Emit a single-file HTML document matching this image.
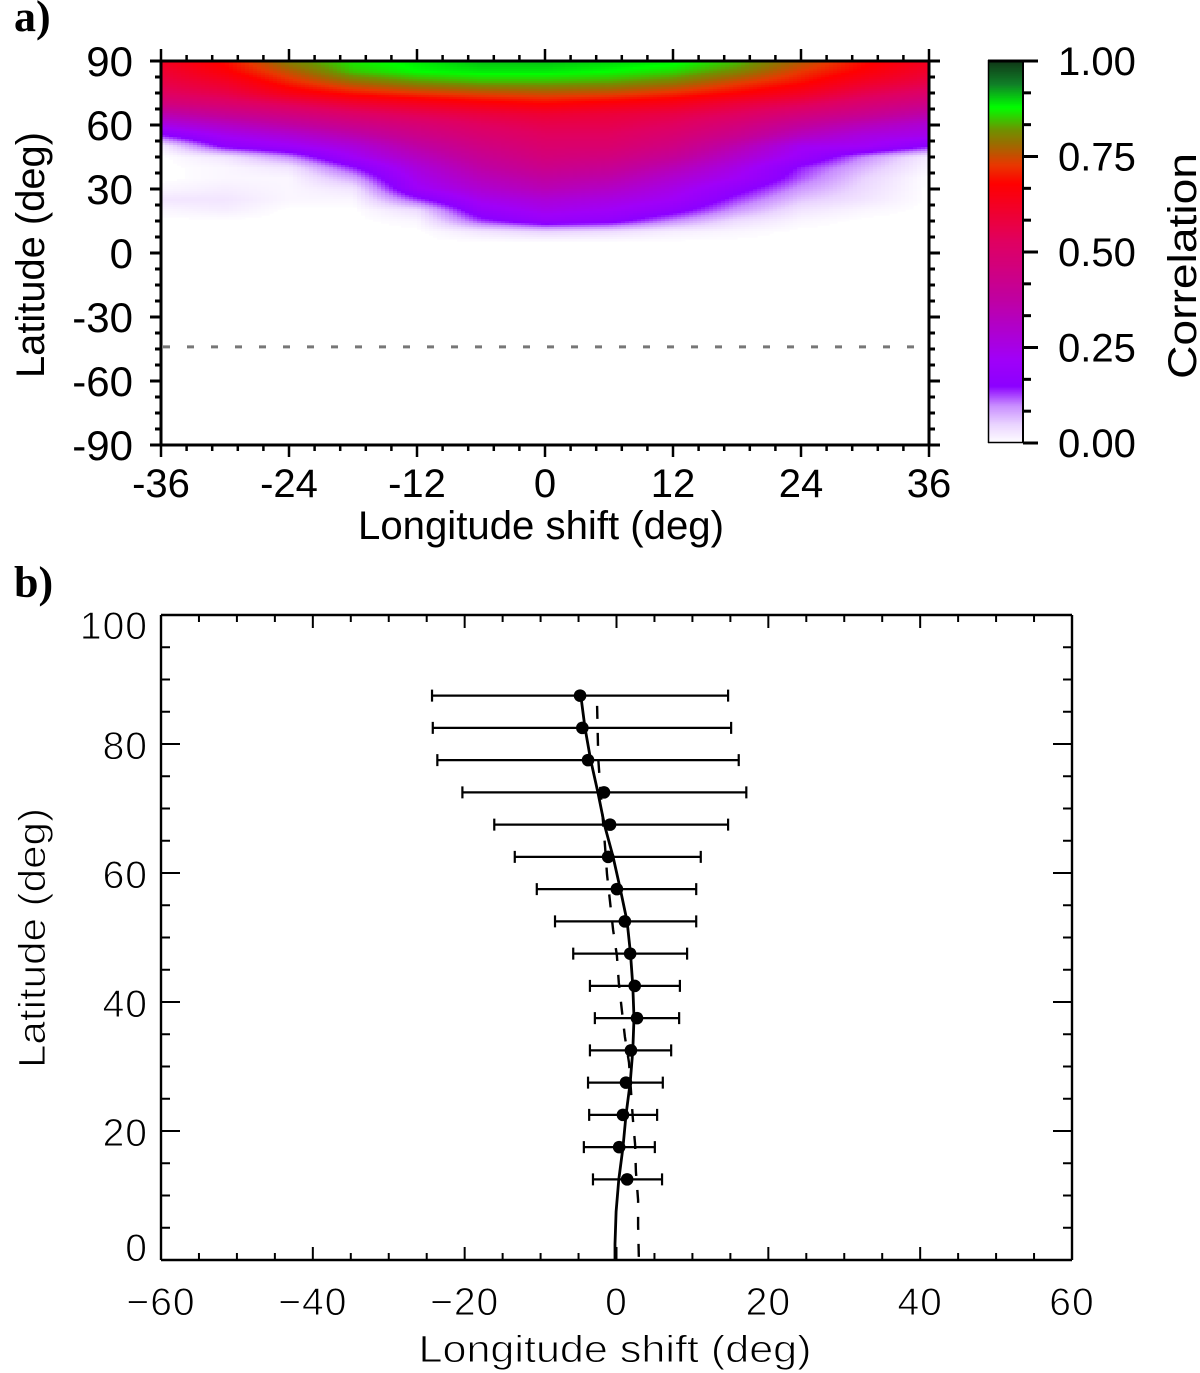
<!DOCTYPE html>
<html lang="en">
<head>
<meta charset="utf-8">
<title>Correlation and longitude shift by latitude</title>
<style>
html,body{margin:0;padding:0;background:#fff;}
#fig{display:block;width:1200px;height:1373px;}
.sa{font-family:"Liberation Sans",sans-serif;font-size:40px;fill:#000;}
.say{font-family:"Liberation Sans",sans-serif;font-size:42px;fill:#000;}
.sb{font-family:"Liberation Sans",sans-serif;font-size:39px;letter-spacing:1px;fill:#000;stroke:#fff;stroke-width:0.9px;}
.sbt{font-family:"Liberation Sans",sans-serif;font-size:38px;fill:#000;stroke:#fff;stroke-width:0.9px;}
.lbl{font-family:"Liberation Serif",serif;font-size:44px;font-weight:bold;fill:#000;}
</style>
</head>
<body>
<svg id="fig" xmlns="http://www.w3.org/2000/svg" width="1200" height="1373" viewBox="0 0 1200 1373">
  <g id="heat"></g>
  <g id="cbar"></g>
  <g id="axa"></g>
  <g id="axb"></g>
  <g id="series"></g>
  <rect x="300" y="547" width="500" height="8" fill="#fff"></rect>
  <text class="lbl" x="14" y="31">a)</text>
  <text class="lbl" x="14" y="597">b)</text>
  <text class="sa" x="541" y="539" text-anchor="middle" textLength="366" lengthAdjust="spacingAndGlyphs">Longitude shift (deg)</text>
  <text class="sa" transform="translate(44,255) rotate(-90)" text-anchor="middle" textLength="246" lengthAdjust="spacingAndGlyphs">Latitude (deg)</text>
  <text class="sa" transform="translate(1196,266) rotate(-90)" text-anchor="middle" textLength="226" lengthAdjust="spacingAndGlyphs">Correlation</text>
  <text class="sbt" x="615" y="1362" text-anchor="middle" textLength="393" lengthAdjust="spacingAndGlyphs">Longitude shift (deg)</text>
  <text class="sbt" transform="translate(45,938) rotate(-90)" text-anchor="middle" textLength="260" lengthAdjust="spacingAndGlyphs">Latitude (deg)</text>
</svg>
<script>
// ---------- Panel a data ----------
const gridLons = [-36,-30,-24,-18,-12,-6,0,6,12,18,24,30,36];
const gridLats = [90,85,80,75,70,65,60,55,50,45,40,35,30,25,20,15,10,5,0];
const corrLonM36 = [.63,.60,.57,.53,.46,.35,.25,.14,.02,0,0,0,.01,.03,.01,0,0,0,0];
const corrLonM30 = [.69,.67,.62,.57,.50,.41,.31,.23,.16,.03,.01,.01,.02,.03,.02,0,0,0,0];
const corrLonM24 = [.81,.76,.71,.65,.55,.46,.37,.28,.21,.10,.03,.01,.01,.01,0,0,0,0,0];
const corrLonM18 = [.87,.85,.78,.70,.60,.51,.43,.35,.27,.22,.14,.08,.03,.01,0,0,0,0,0];
const corrLonM12 = [.89,.88,.82,.73,.63,.55,.48,.43,.37,.32,.27,.24,.21,.13,.04,.01,0,0,0];
const corrLonM6 = [.91,.89,.84,.75,.66,.58,.53,.49,.45,.41,.37,.33,.29,.24,.19,.13,.03,0,0];
const corrLon0 = [.91,.89,.84,.76,.68,.60,.56,.53,.50,.47,.43,.38,.34,.28,.24,.19,.05,0,0];
const corrLonP6 = [.90,.88,.83,.75,.66,.59,.56,.53,.50,.46,.41,.36,.31,.26,.22,.17,.04,0,0];
const corrLonP12 = [.89,.86,.80,.72,.64,.57,.53,.49,.45,.40,.34,.29,.25,.22,.17,.10,.02,0,0];
const corrLonP18 = [.85,.81,.74,.68,.59,.53,.47,.42,.35,.30,.25,.22,.17,.13,.09,.04,.01,0,0];
const corrLonP24 = [.77,.73,.69,.63,.55,.47,.39,.32,.23,.20,.14,.12,.09,.06,.03,.01,0,0,0];
const corrLonP30 = [.69,.67,.62,.56,.49,.42,.33,.26,.22,.10,.07,.05,.04,.03,.01,0,0,0,0];
const corrLonP36 = [.63,.61,.57,.51,.44,.36,.28,.24,.15,.02,.01,0,0,0,0,0,0,0,0];
const corrColumns = [corrLonM36,corrLonM30,corrLonM24,corrLonM18,corrLonM12,corrLonM6,corrLon0,corrLonP6,corrLonP12,corrLonP18,corrLonP24,corrLonP30,corrLonP36];
const referenceLat = [-44];
const aXTicks = [-36,-24,-12,0,12,24,36];
const aYTicks = [90,60,30,0,-30,-60,-90];
const cbarTicks = ["1.00","0.75","0.50","0.25","0.00"];
const cmapValues = [0,.05,.10,.15,.22,.38,.53,.68,.73,.78,.82,.88,.94,1];
const cmapColors = ["#ffffff","#ead4ff","#c88cff","#8c00ff","#a000f8","#c000a0","#e00060","#ff0000","#e83800","#a06800","#709000","#00ff00","#108028","#103818"];

// ---------- Panel b data ----------
const pointLats = [87.5,82.5,77.5,72.5,67.5,62.5,57.5,52.5,47.5,42.5,37.5,32.5,27.5,22.5,17.5,12.5];
const pointLons = [-4.8,-4.5,-3.75,-1.65,-0.85,-1.1,0.05,1.1,1.8,2.4,2.7,1.9,1.25,0.85,0.35,1.4];
const errLow = [-24.3,-24.2,-23.6,-20.3,-16.1,-13.4,-10.5,-8.1,-5.7,-3.5,-2.85,-3.5,-3.75,-3.6,-4.3,-3.1];
const errHigh = [14.7,15.1,16.1,17.1,14.7,11.1,10.5,10.5,9.3,8.35,8.25,7.2,6.1,5.35,5.05,6.0];
const solidLats = [87.5,82.5,77.5,72.5,67.5,62.5,57.5,52.5,47.5,42.5,37.5,32.5,27.5,22.5,17.5,12.5,7.5,2.5,0];
const solidLons = [-4.7,-4.15,-3.4,-2.45,-1.6,-0.45,0.5,1.4,1.85,2.15,2.3,2.15,1.8,1.25,0.85,0.3,-0.05,-0.2,-0.2];
const dashLats = [85.9,77.6,72,64,59.8,55.6,51.2,47.2,43,38.8,34.6,30.6,26.4,22,17.9,13.7,9.3,5.3,0];
const dashLons = [-2.55,-2.4,-2.05,-1.5,-1.25,-0.85,-0.45,0.05,0.3,0.7,1.1,1.65,1.9,2.15,2.45,2.55,2.85,2.85,2.95];
const bXTicks = [-60,-40,-20,0,20,40,60];
const bYTicks = [0,20,40,60,80,100];

// ---------- Scales ----------
const NS = "http://www.w3.org/2000/svg";
function xA(v){return 161+(v+36)*768/72;}
function yA(v){return 61+(90-v)*384/180;}
function yC(v){return 443-v*382;}
function xB(v){return 161+(v+60)*911/120;}
function yB(v){return 1260-v*6.45;}

function el(parent,tag,attrs,text){
  const e=document.createElementNS(NS,tag);
  for(const k in attrs){e.setAttribute(k,attrs[k]);}
  if(text!==undefined){e.textContent=text;}
  parent.appendChild(e);
  return e;
}
function lineEl(parent,x1,y1,x2,y2,w,name){
  const e=el(parent,"line",{x1:x1,y1:y1,x2:x2,y2:y2,stroke:"#000","stroke-width":w});
  
  
  return e;
}
function textEl(parent,cls,x,y,anchor,str,name){
  const e=el(parent,"text",{class:cls,x:x,y:y,"text-anchor":anchor},str);
  
  
  return e;
}
function hex(c){return [1,3,5].map(function(i){return parseInt(c.substr(i,2),16);});}
function colorFor(v){
  v=Math.max(0,Math.min(1,v));
  let i=0;
  while(i<cmapValues.length-2 && v>cmapValues[i+1]){i++;}
  const t=(v-cmapValues[i])/(cmapValues[i+1]-cmapValues[i]);
  const a=hex(cmapColors[i]),b=hex(cmapColors[i+1]);
  return "rgb("+a.map(function(p,k){return Math.round(p+(b[k]-p)*t);}).join(",")+")";
}
function bracket(arr,v){
  let i=0;
  const asc=arr[1]>arr[0];
  while(i<arr.length-2 && (asc? v>arr[i+1] : v<arr[i+1])){i++;}
  return [i,(v-arr[i])/(arr[i+1]-arr[i])];
}
function corrAt(lon,lat){
  const bx=bracket(gridLons,lon),by=bracket(gridLats,lat);
  const c0=corrColumns[bx[0]],c1=corrColumns[bx[0]+1];
  const v0=c0[by[0]]+(c0[by[0]+1]-c0[by[0]])*by[1];
  const v1=c1[by[0]]+(c1[by[0]+1]-c1[by[0]])*by[1];
  return v0+(v1-v0)*bx[1];
}

// ---------- Heatmap ----------
const heat=document.getElementById("heat");
const lonStep=0.375, latStep=0.9375;
for(let lat=90;lat>0;lat-=latStep){
  for(let lon=-36;lon<36;lon+=lonStep){
    const v=corrAt(lon+lonStep/2,lat-latStep/2);
    if(v<0.004){continue;}
    const r=el(heat,"rect",{x:xA(lon),y:yA(lat),width:xA(lon+lonStep)-xA(lon)+0.6,height:yA(lat-latStep)-yA(lat)+0.6,fill:colorFor(v)});
    
    
  }
}

// ---------- Colorbar ----------
const cbar=document.getElementById("cbar");
const cbarSteps=191;
for(let i=0;i<cbarSteps;i++){
  const a=i/cbarSteps,b=(i+1)/cbarSteps;
  const r=el(cbar,"rect",{x:989,y:yC(b),width:34,height:yC(a)-yC(b)+0.6,fill:colorFor((a+b)/2)});
  
  
}
lineEl(cbar,988.5,60,988.5,443,1.5,"colorbar-left-edge");
lineEl(cbar,1023,60,1023,443,2,"colorbar-right-edge");
lineEl(cbar,988,61,1023,61,3,"colorbar-top-edge");
lineEl(cbar,988,442.5,1023,442.5,1.5,"colorbar-bottom-edge");
for(let i=0;i<=12;i++){
  const major=i%3===0;
  lineEl(cbar,1023,yC(i/12),major?1038:1031,yC(i/12),3,major?"colorbar-major-tick":"colorbar-minor-tick");
}
cbarTicks.forEach(function(s){
  textEl(cbar,"sa",1058,yC(parseFloat(s))+14,"start",s,"colorbar-tick-label");
});

// ---------- Panel a axes ----------
const axa=document.getElementById("axa");
const lw=3;
lineEl(axa,xA(-36),yA(90),xA(36),yA(90),lw,"panel-a-top-axis");
lineEl(axa,xA(-36),yA(-90),xA(36),yA(-90),lw,"panel-a-bottom-axis");
lineEl(axa,xA(-36),yA(90),xA(-36),yA(-90),lw,"panel-a-left-axis");
lineEl(axa,xA(36),yA(90),xA(36),yA(-90),lw,"panel-a-right-axis");
for(let v=-36;v<=36.01;v+=2.4){
  const major=Math.abs((v+36)/12-Math.round((v+36)/12))<0.01;
  const len=major?12:6;
  lineEl(axa,xA(v),yA(-90),xA(v),yA(-90)+len,2.5,major?"panel-a-x-major-tick":"panel-a-x-minor-tick");
  lineEl(axa,xA(v),yA(90),xA(v),yA(90)-len,2.5,major?"panel-a-top-major-tick":"panel-a-top-minor-tick");
}
for(let v=-90;v<=90;v+=7.5){
  const major=v%30===0;
  const len=major?11:6;
  lineEl(axa,xA(-36),yA(v),xA(-36)-len,yA(v),3,major?"panel-a-y-major-tick":"panel-a-y-minor-tick");
  lineEl(axa,xA(36),yA(v),xA(36)+len,yA(v),3,major?"panel-a-right-major-tick":"panel-a-right-minor-tick");
}
aXTicks.forEach(function(v){
  textEl(axa,"sa",xA(v),497,"middle",String(v),"panel-a-x-tick-label");
});
aYTicks.forEach(function(v){
  textEl(axa,"say",133,yA(v)+15,"end",String(v),"panel-a-y-tick-label");
});
referenceLat.forEach(function(v){
  const d=el(axa,"line",{x1:xA(-36)+2,y1:yA(v),x2:xA(36),y2:yA(v),stroke:"#777","stroke-width":3,"stroke-dasharray":"7 17"});
  
  
});

// ---------- Panel b axes ----------
const axb=document.getElementById("axb");
lineEl(axb,xB(-60),yB(100),xB(60),yB(100),2.4,"panel-b-top-axis");
lineEl(axb,xB(-60),yB(0),xB(60),yB(0),2.4,"panel-b-bottom-axis");
lineEl(axb,xB(-60),yB(100),xB(-60),yB(0),2.4,"panel-b-left-axis");
lineEl(axb,xB(60),yB(100),xB(60),yB(0),2.4,"panel-b-right-axis");
for(let v=-60;v<=60;v+=5){
  const major=v%20===0;
  const len=major?13:7;
  lineEl(axb,xB(v),yB(0),xB(v),yB(0)-len,2,major?"panel-b-x-major-tick":"panel-b-x-minor-tick");
  lineEl(axb,xB(v),yB(100),xB(v),yB(100)+len,2,major?"panel-b-top-major-tick":"panel-b-top-minor-tick");
}
for(let v=0;v<=100;v+=5){
  const major=v%20===0;
  const len=major?19:9;
  lineEl(axb,xB(-60),yB(v),xB(-60)+len,yB(v),2,major?"panel-b-y-major-tick":"panel-b-y-minor-tick");
  lineEl(axb,xB(60),yB(v),xB(60)-len,yB(v),2,major?"panel-b-right-major-tick":"panel-b-right-minor-tick");
}
bXTicks.forEach(function(v){
  const s=(v<0?"\u2212":"")+Math.abs(v);
  textEl(axb,"sb",xB(v),1315,"middle",s,"panel-b-x-tick-label");
});
bYTicks.forEach(function(v){
  const base=Math.min(yB(0)+1,Math.max(yB(100)+24,yB(v)+15));
  textEl(axb,"sb",148,base,"end",String(v),"panel-b-y-tick-label");
});

// ---------- Panel b series ----------
const series=document.getElementById("series");
function pathFrom(lats,lons){
  return lats.map(function(lat,i){return (i?"L":"M")+xB(lons[i]).toFixed(1)+" "+yB(lat).toFixed(1);}).join(" ");
}
const dashPath=el(series,"path",{d:pathFrom(dashLats,dashLons),fill:"none",stroke:"#000","stroke-width":2.4,"stroke-dasharray":"13 14"});


const solidPath=el(series,"path",{d:pathFrom(solidLats,solidLons),fill:"none",stroke:"#000","stroke-width":2.8,"stroke-linejoin":"round"});


pointLats.forEach(function(lat,i){
  const y=yB(lat);
  lineEl(series,xB(errLow[i]),y,xB(errHigh[i]),y,2.2,"error-bar");
  lineEl(series,xB(errLow[i]),y-6,xB(errLow[i]),y+6,2.2,"error-bar-low-cap");
  lineEl(series,xB(errHigh[i]),y-6,xB(errHigh[i]),y+6,2.2,"error-bar-high-cap");
  const c=el(series,"circle",{cx:xB(pointLons[i]),cy:y,r:6.3,fill:"#000"});
  
  
});
</script>
</body>
</html>
